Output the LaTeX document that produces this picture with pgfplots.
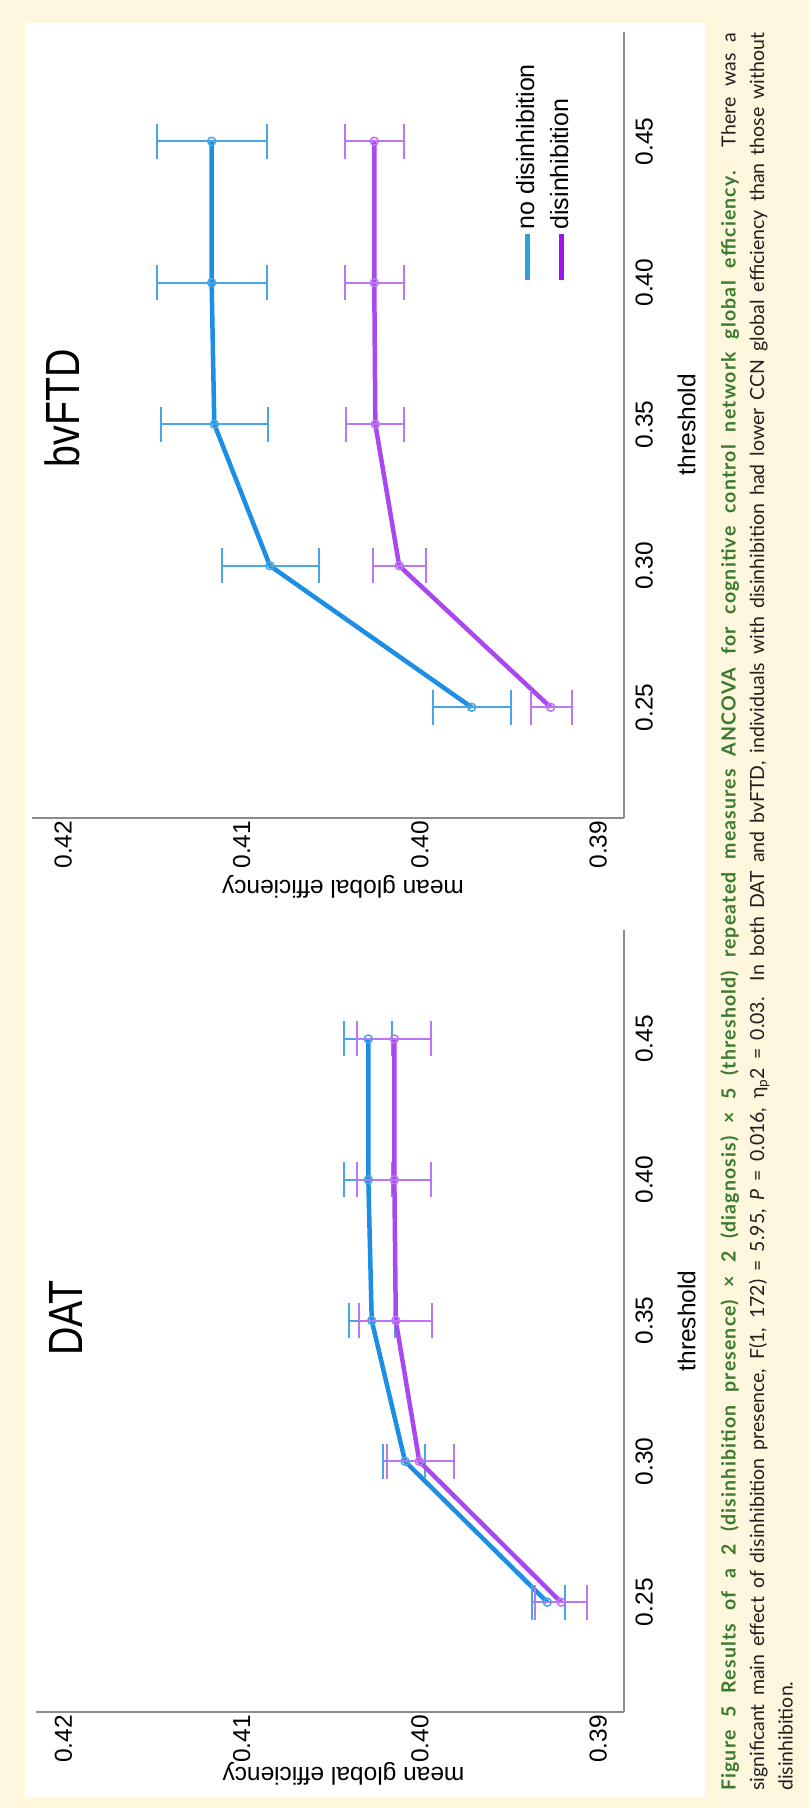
\documentclass[border=0pt]{standalone}
\usepackage{fontspec}
\setmainfont{Liberation Sans}
\newfontfamily\capfont[BoldFeatures={LetterSpace=6}]{Lato}
\usepackage{graphicx}
\usepackage{xcolor}
\usepackage{pgfplots}
\usepackage{pgfplotstable}
\pgfplotsset{compat=1.18}

\definecolor{bgyellow}{RGB}{254,247,222}
\definecolor{capgreen}{RGB}{58,122,44}
\definecolor{capblack}{RGB}{35,31,32}
\definecolor{lblue}{RGB}{28,142,228}
\definecolor{eblue}{RGB}{72,166,230}
\definecolor{lpurp}{RGB}{170,72,240}
\definecolor{epurp}{RGB}{188,118,245}
\definecolor{legblue}{RGB}{48,160,218}
\definecolor{legpurp}{RGB}{160,20,240}
\definecolor{axgray}{RGB}{140,140,140}

% DAT, no disinhibition
\pgfplotstableread{
x    y       ep      em
0.25 0.39286 0.00084 0.00099
0.30 0.40084 0.00122 0.00112
0.35 0.40271 0.00127 0.00131
0.40 0.40290 0.00136 0.00132
0.45 0.40290 0.00136 0.00132
}\datblue
% DAT, disinhibition
\pgfplotstableread{
x    y       ep      em
0.25 0.39209 0.00144 0.00144
0.30 0.40004 0.00179 0.00195
0.35 0.40136 0.00206 0.00202
0.40 0.40144 0.00211 0.00204
0.45 0.40144 0.00211 0.00204
}\datpurp
% bvFTD, no disinhibition
\pgfplotstableread{
x    y       ep      em
0.25 0.39710 0.00215 0.00219
0.30 0.40841 0.00271 0.00277
0.35 0.41153 0.00301 0.00303
0.40 0.41168 0.00308 0.00309
0.45 0.41168 0.00308 0.00309
}\ftdblue
% bvFTD, disinhibition
\pgfplotstableread{
x    y       ep      em
0.25 0.39267 0.00112 0.00118
0.30 0.40116 0.00146 0.00150
0.35 0.40250 0.00165 0.00161
0.40 0.40256 0.00164 0.00167
0.45 0.40256 0.00164 0.00167
}\ftdpurp

\pgfplotsset{
  panel/.style={
    scale only axis,
    xmin=0.211, xmax=0.4887,
    ymin=0.38854,
    axis x line*=bottom, axis y line*=left,
    axis line style={axgray, line width=1.8pt},
    xtick={0.25,0.30,0.35,0.40,0.45},
    ytick={0.39,0.40,0.41,0.42},
    scaled ticks=false,
    major tick length=0pt,
    /pgf/number format/assume math mode=true,
    tick label style={font=\fontsize{24.5}{28}\selectfont, text=black,
      /pgf/number format/fixed, /pgf/number format/fixed zerofill,
      /pgf/number format/precision=2},
    xticklabel style={anchor=north, inner sep=0pt, yshift=-11pt},
    yticklabel style={anchor=east, inner sep=0pt, xshift=-3pt},
    xlabel={threshold},
    ylabel={mean global efficiency},
    every axis x label/.style={at={(axis description cs:0.5,0)}, anchor=base, yshift=-71pt,
      font=\fontsize{24.5}{28}\selectfont},
    title style={font=\fontsize{48}{50}\selectfont, anchor=base},
  },
  blueplot/.style={lblue, line width=4.5pt, line join=round, mark=o, mark size=4pt,
    mark options={eblue, line width=1.5pt, solid}, forget plot,
    error bars/.cd, y dir=both, y explicit,
    error bar style={eblue, line width=2pt},
    error mark options={eblue, line width=2pt, mark size=17.5pt, rotate=90}},
  purpplot/.style={lpurp, line width=4.5pt, line join=round, mark=o, mark size=4pt,
    mark options={epurp, line width=1.5pt, solid}, forget plot,
    error bars/.cd, y dir=both, y explicit,
    error bar style={epurp, line width=2pt},
    error mark options={epurp, line width=2pt, mark size=17.5pt, rotate=90}},
}

\begin{document}
\rotatebox{90}{%
\begin{tikzpicture}[x=1pt,y=1pt]
\fill[bgyellow] (0,0) rectangle (1808,809);
\fill[white] (11,104) rectangle (1785,784);

% DAT panel
\begin{axis}[panel,
  at={(96pt,184.7pt)}, anchor=south west,
  width=782pt, height=588pt, ymax=0.42153,
  title={\scalebox{0.82}[1]{DAT}},
  title style={at={(axis description cs:0.504,0.9116)}},
  every axis y label/.style={at={(axis description cs:-0.0716,0.4776)}, rotate=90, anchor=base,
    font=\fontsize{24.5}{28}\selectfont},
]
\addplot[blueplot] table[x=x, y=y, y error plus=ep, y error minus=em] {\datblue};
\addplot[purpplot] table[x=x, y=y, y error plus=ep, y error minus=em] {\datpurp};
\end{axis}

% bvFTD panel
\begin{axis}[panel,
  at={(990.3pt,184.7pt)}, anchor=south west,
  width=786pt, height=592.6pt, ymax=0.42177,
  title={\scalebox{0.82}[1]{bvFTD}},
  title style={at={(axis description cs:0.521,0.910)}},
  every axis y label/.style={at={(axis description cs:-0.0793,0.4747)}, rotate=90, anchor=base,
    font=\fontsize{24.5}{28}\selectfont},
  legend style={at={(axis description cs:0.6807,0.1344)}, anchor=west,
    draw=none, fill=none, inner sep=0pt, row sep=7pt,
    font=\fontsize{25}{28}\selectfont,
    nodes={inner sep=2pt, text height=18pt, text depth=5pt},
    /tikz/every even column/.append style={column sep=8pt}},
  legend cell align=left,
  legend image code/.code={\draw[#1] (0pt,0pt) -- (46pt,0pt);},
]
\addlegendimage{legblue, line width=5pt}
\addlegendentry{no disinhibition}
\addlegendimage{legpurp, line width=5pt}
\addlegendentry{disinhibition}
\addplot[blueplot] table[x=x, y=y, y error plus=ep, y error minus=em] {\ftdblue};
\addplot[purpplot] table[x=x, y=y, y error plus=ep, y error minus=em] {\ftdpurp};
\end{axis}

% caption
\node[anchor=north west, inner sep=0pt, text width=1758pt, align=justify,
  font=\capfont\fontsize{19.5}{28.5}\selectfont, text=capblack] at (17,89)
{{\bfseries\color{capgreen}Figure 5 Results of a 2 (disinhibition presence) × 2 (diagnosis) × 5 (threshold) repeated measures ANCOVA for cognitive control network global efficiency.} There was a\linebreak
significant main effect of disinhibition presence, F(1, 172) = 5.95, \textit{P} = 0.016, η\textsubscript{p}2 = 0.03. In both DAT and bvFTD, individuals with disinhibition had lower CCN global efficiency than those without\linebreak
disinhibition.};
\end{tikzpicture}}
\end{document}
